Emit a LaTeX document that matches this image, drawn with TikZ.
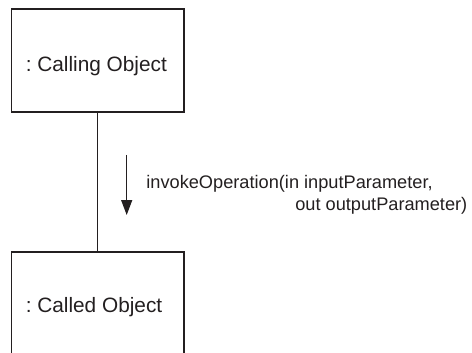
\documentclass[tikz,border=0pt]{standalone}
\usepackage{fontspec}
\setmainfont{Liberation Sans}
\usetikzlibrary{arrows.meta}
\definecolor{ink}{HTML}{231F20}
\frenchspacing
\begin{document}
\begin{tikzpicture}[x=1pt,y=-1pt,
  objbox/.style={draw=ink, line width=1.6pt, rectangle, inner sep=0pt, minimum width=172.5pt, anchor=north west},
  objtext/.style={text=ink, font=\fontsize{20.8}{24}\selectfont\frenchspacing, inner sep=0pt, anchor=base west},
  msgtext/.style={text=ink, font=\fontsize{18.2}{22}\selectfont\frenchspacing, inner sep=0pt},
  conn/.style={draw=ink, line width=1.5pt},
  msgarrow/.style={draw=ink, line width=1.3pt, -{Triangle[length=15pt,width=11pt]}}]
\clip (0,0) rectangle (472,353);
\node[objbox, minimum height=103pt] (caller) at (10.5,8) {};
\node[objbox, minimum height=150pt] (callee) at (10.5,251) {};
\node[objtext] (callertxt) at (25.6,72) {: Calling Object};
\node[objtext] (calleetxt) at (25.6,312) {: Called Object};
\draw[conn] (caller.south) -- (callee.north);
\coordinate (a1) at (126.7,155);
\coordinate (a2) at (126.7,215);
\draw[msgarrow] (a1) -- (a2);
\node[msgtext, anchor=base west] (msg1) at (146.2,188) {invokeOperation(in inputParameter,};
\node[msgtext, anchor=base east] (msg2) at (467.5,211) {out outputParameter)};
\end{tikzpicture}
\end{document}
